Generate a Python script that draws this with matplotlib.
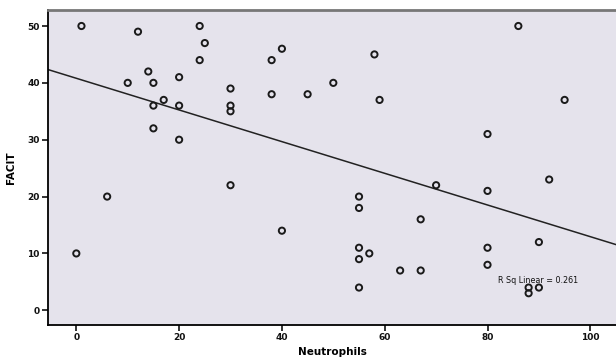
import numpy as np
import matplotlib
matplotlib.use("Agg")
import matplotlib.pyplot as plt

neutrophils = [1, 12, 10, 14, 15, 15, 17, 15, 20, 20, 20, 24, 25, 24,
               30, 30, 30, 30, 38, 40, 38, 45, 50, 58, 59, 86, 95, 80,
               92, 70, 80, 55, 55, 67, 55, 57, 55, 63, 67, 80, 80, 90,
               55, 88, 90, 88, 0, 6, 40]
facit = [50, 49, 40, 42, 40, 36, 37, 32, 41, 36, 30, 50, 47, 44,
         39, 36, 35, 22, 44, 46, 38, 38, 40, 45, 37, 50, 37, 31,
         23, 22, 21, 20, 18, 16, 11, 10, 9, 7, 7, 11, 8, 12,
         4, 4, 4, 3, 10, 20, 14]

x_ticks = [0, 20, 40, 60, 80, 100]
y_ticks = [0, 10, 20, 30, 40, 50]
r2_label = "R Sq Linear = 0.261"

x = np.array(neutrophils, dtype=float)
y = np.array(facit, dtype=float)
slope, intercept = np.polyfit(x, y, 1)

fig = plt.figure(figsize=(6.16, 3.6), dpi=100)
ax = fig.add_axes([0.078, 0.097, 0.922, 0.875])
ax.set_facecolor("#e5e3ec")

ax.set_xlim(-5.5, 105)
ax.set_ylim(-2.6, 52.8)

xl = np.array(ax.get_xlim())
ax.plot(xl, intercept + slope * xl, color="#222222", lw=1.1, zorder=2)

ax.scatter(x, y, s=20, facecolors="none", edgecolors="#1a1a1a",
           linewidths=1.4, zorder=3)

ax.text(82, 4.8, r2_label, fontsize=5.8, color="#111111", zorder=4)

ax.set_xticks(x_ticks)
ax.set_yticks(y_ticks)
ax.tick_params(direction="out", length=4, width=1.2, labelsize=6.5,
               colors="#111111", pad=2)
for lab in ax.get_xticklabels() + ax.get_yticklabels():
    lab.set_fontweight("bold")

ax.set_xlabel("Neutrophils", fontsize=7.5, fontweight="bold", labelpad=3)
ax.set_ylabel("FACIT", fontsize=7.5, fontweight="bold", labelpad=8)

ax.spines["right"].set_visible(False)
ax.spines["left"].set_linewidth(1.3)
ax.spines["bottom"].set_linewidth(1.3)
ax.spines["top"].set_color("#777777")
ax.spines["top"].set_linewidth(2.0)

fig.savefig("out.png", dpi=100)
